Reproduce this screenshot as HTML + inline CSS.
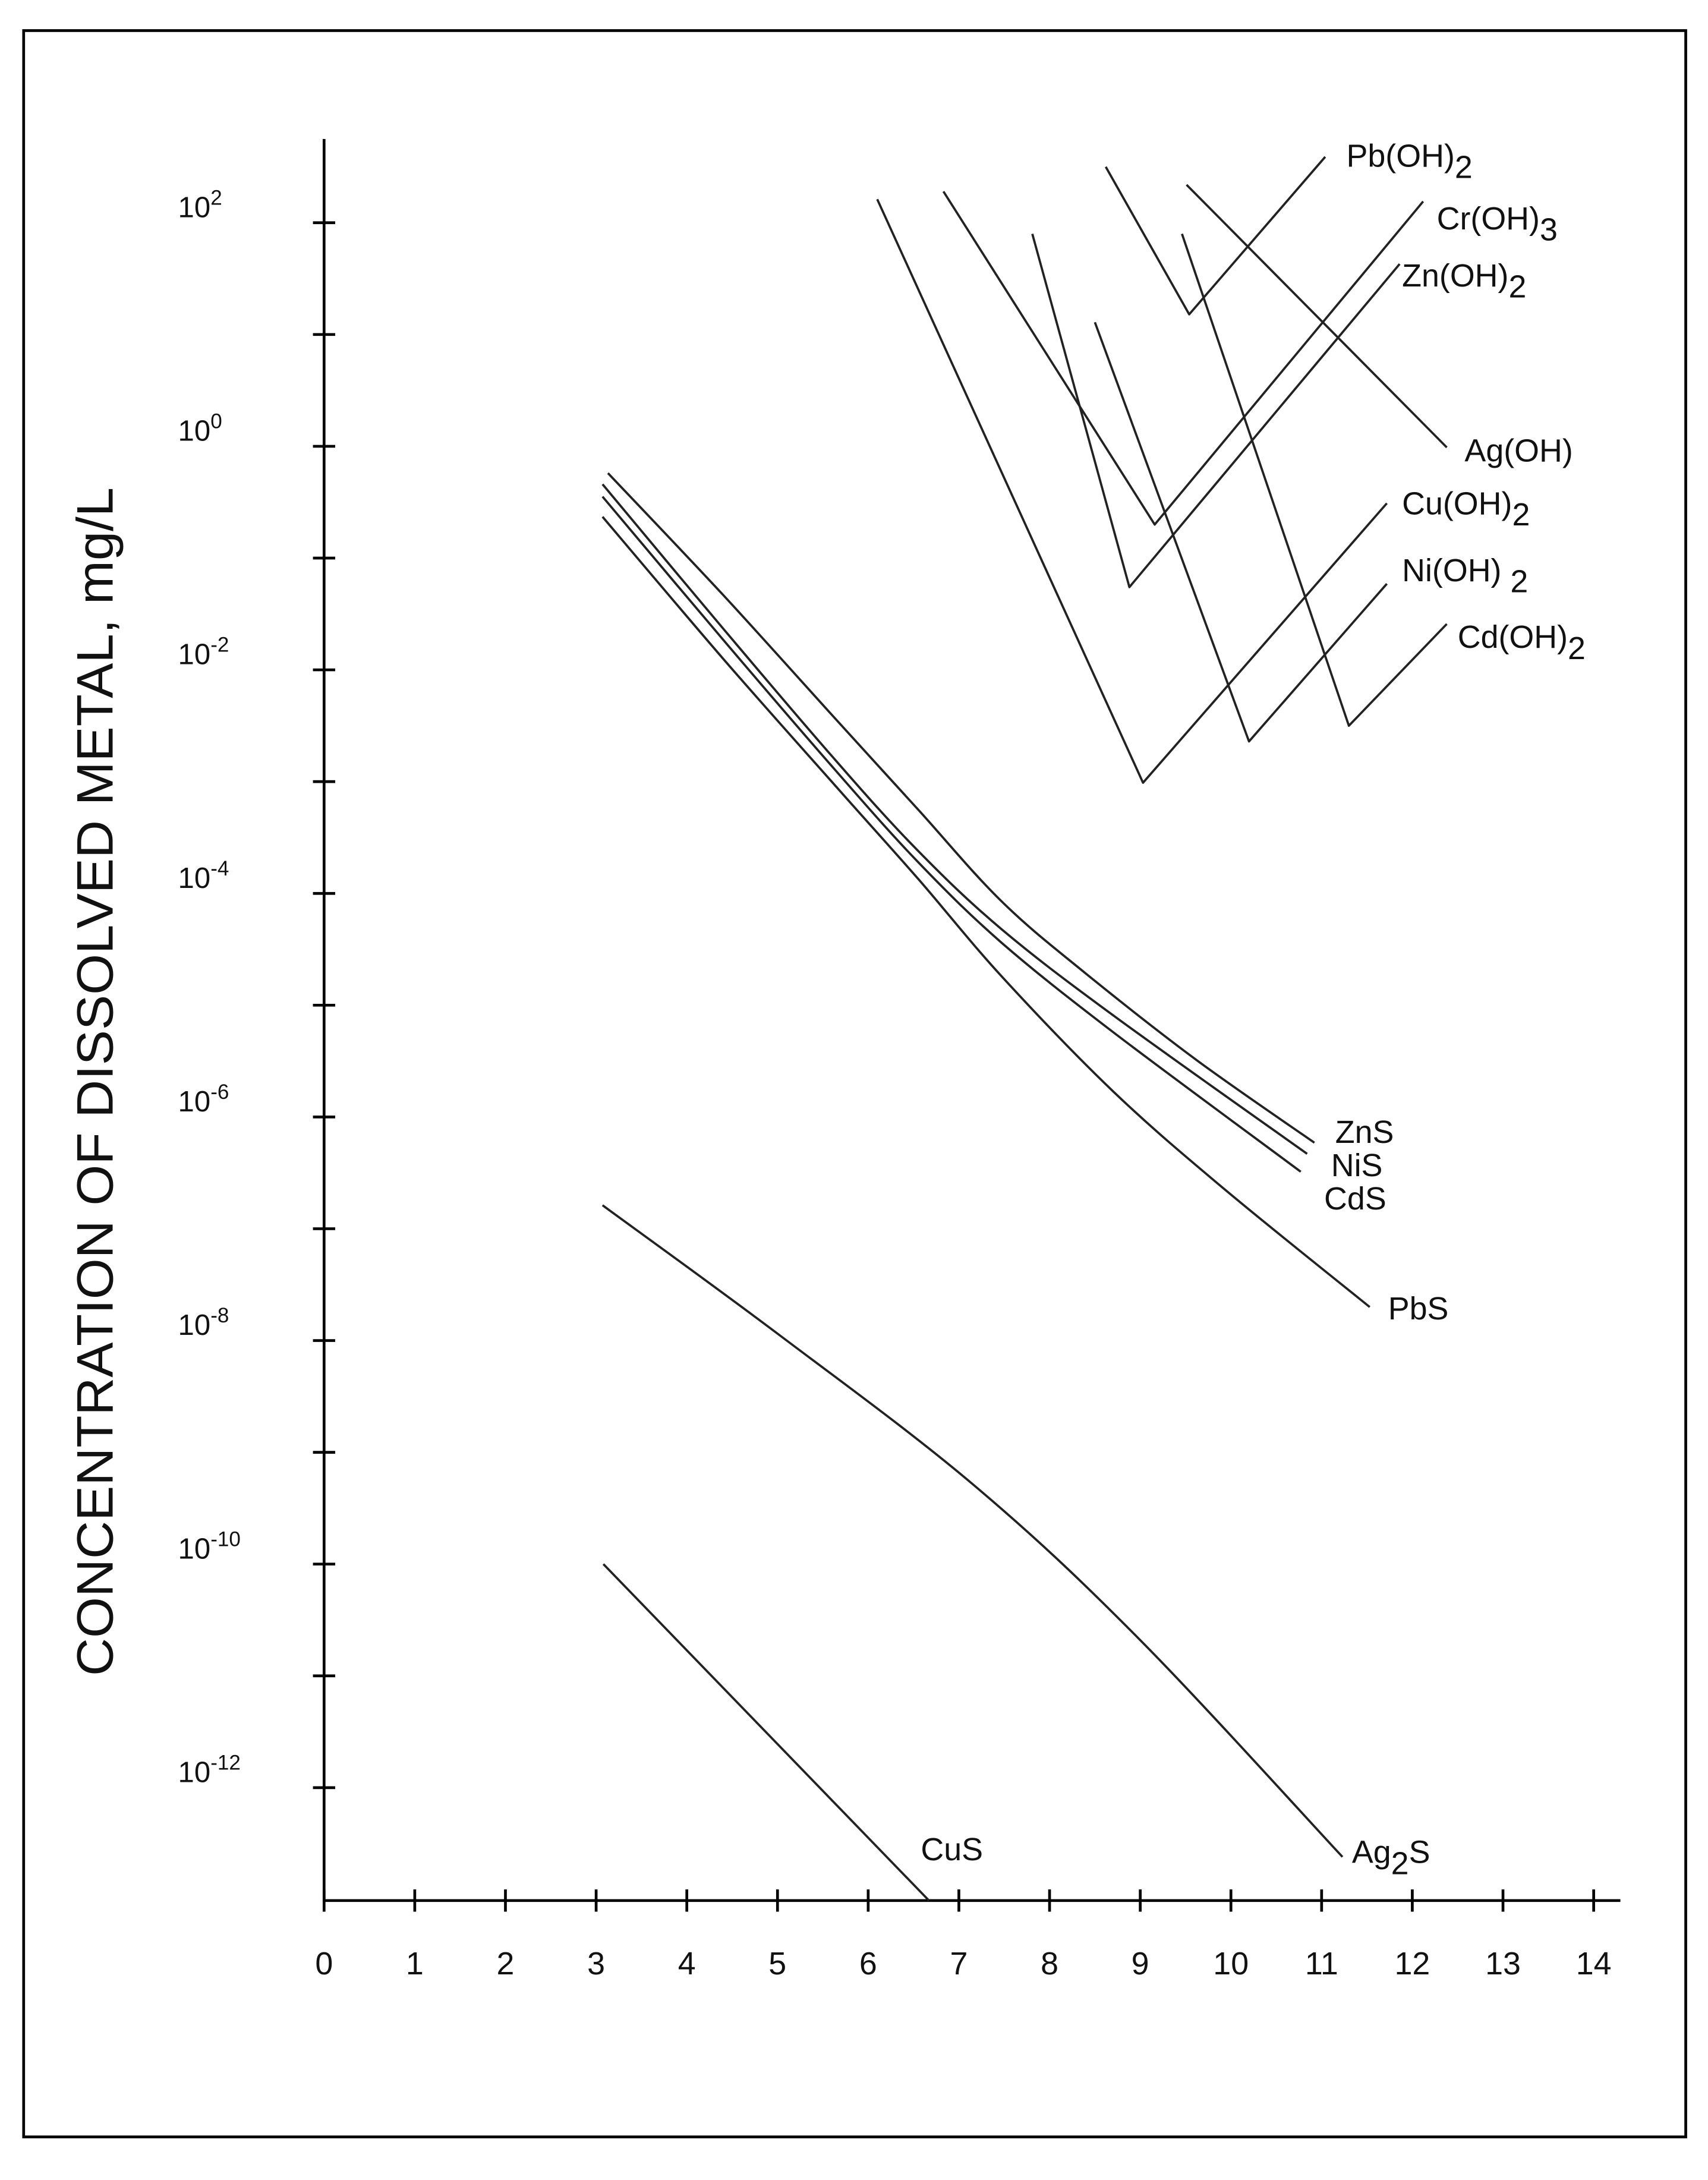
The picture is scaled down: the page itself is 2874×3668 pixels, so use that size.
<!DOCTYPE html>
<html><head><meta charset="utf-8"><style>
html,body{margin:0;padding:0;background:#fff;}
svg{display:block;}
text{font-family:"Liberation Sans",Arial,sans-serif;fill:#111;}
</style></head><body>
<svg id="chart" width="2874" height="3668" viewBox="0 0 1228 1568" preserveAspectRatio="none" xmlns="http://www.w3.org/2000/svg">
<rect x="17" y="22" width="1195" height="1515" fill="#fff" stroke="#000" stroke-width="2"/>
<g id="axes"></g>
<g id="series"></g>
<text transform="translate(81,778) rotate(-90)" text-anchor="middle" font-size="37" textLength="855" lengthAdjust="spacingAndGlyphs">CONCENTRATION OF DISSOLVED METAL, mg/L</text>
</svg>
<script>
const xTicks=[0,1,2,3,4,5,6,7,8,9,10,11,12,13,14];
const yDecades=[2,0,-2,-4,-6,-8,-10,-12];
const yMinorTicks=[1,-1,-3,-5,-7,-9,-11];
// series: [pH, log10(mg/L)]
const pbOH=[[8.62,2.50],[9.54,1.18],[11.04,2.59]];
const crOH=[[6.83,2.28],[9.16,-0.70],[12.12,2.19]];
const znOH=[[7.81,1.90],[8.88,-1.26],[11.86,1.63]];
const agOH=[[9.51,2.34],[12.38,-0.01]];
const cuOH=[[6.10,2.21],[9.03,-3.01],[11.72,-0.51]];
const niOH=[[8.50,1.11],[10.20,-2.64],[11.72,-1.23]];
const cdOH=[[9.46,1.90],[11.30,-2.50],[12.38,-1.59]];
const znS=[[3.13,-0.24],[4.40,-1.33],[5.63,-2.43],[6.55,-3.25],[7.47,-4.07],[8.39,-4.71],[9.62,-5.49],[10.92,-6.23]];
const niS=[[3.07,-0.34],[4.40,-1.63],[5.63,-2.80],[6.55,-3.62],[7.47,-4.32],[8.70,-5.09],[10.84,-6.33]];
const cdS=[[3.07,-0.45],[4.40,-1.73],[5.63,-2.89],[6.55,-3.72],[7.47,-4.44],[8.70,-5.24],[10.77,-6.49]];
const pbS=[[3.07,-0.63],[4.40,-1.90],[5.63,-3.03],[6.55,-3.87],[7.47,-4.74],[8.70,-5.77],[9.92,-6.64],[11.53,-7.70]];
const ag2S=[[3.07,-6.79],[5.02,-7.95],[7.16,-9.29],[9.00,-10.68],[11.23,-12.62]];
const cuS=[[3.08,-10.0],[6.67,-13.01]];
const seriesList=[
 ["pb-oh2",pbOH,"Pb(OH)","2",968,120,false],
 ["cr-oh3",crOH,"Cr(OH)","3",1033,165,false],
 ["zn-oh2",znOH,"Zn(OH)","2",1008,206,false],
 ["ag-oh",agOH,"Ag(OH)","",1053,332,false],
 ["cu-oh2",cuOH,"Cu(OH)","2",1008,370,false],
 ["ni-oh2",niOH,"Ni(OH) ","2",1008,418,false],
 ["cd-oh2",cdOH,"Cd(OH)","2",1048,466,false],
 ["zns",znS,"ZnS","",960,822,true],
 ["nis",niS,"NiS","",957,846,true],
 ["cds",cdS,"CdS","",952,870,true],
 ["pbs",pbS,"PbS","",998,949,true],
 ["ag2s",ag2S,"Ag","2S",972,1340,true],
 ["cus",cuS,"CuS","",662,1338,false]
];
const NS="http://www.w3.org/2000/svg";
function X(p){return 233+65.2*p;}
function Y(l){return 321-80.4*l;}
const ax=document.getElementById('axes'), sg=document.getElementById('series');
function mk(tag,attrs,parent){const e=document.createElementNS(NS,tag);for(const k in attrs)e.setAttribute(k,attrs[k]);parent.appendChild(e);return e;}
function smoothPath(P){
 let d='M'+P[0][0].toFixed(1)+','+P[0][1].toFixed(1);
 for(let i=0;i<P.length-1;i++){
  const p0=P[i-1]||P[i],p1=P[i],p2=P[i+1],p3=P[i+2]||p2;
  const c1=[p1[0]+(p2[0]-p0[0])/6,p1[1]+(p2[1]-p0[1])/6];
  const c2=[p2[0]-(p3[0]-p1[0])/6,p2[1]-(p3[1]-p1[1])/6];
  d+=' C'+c1[0].toFixed(1)+','+c1[1].toFixed(1)+' '+c2[0].toFixed(1)+','+c2[1].toFixed(1)+' '+p2[0].toFixed(1)+','+p2[1].toFixed(1);
 }
 return d;
}
let yl=mk('line',{x1:233,y1:100,x2:233,y2:1368,stroke:'#000','stroke-width':2},ax);


let xl=mk('line',{x1:232,y1:1367,x2:1165,y2:1367,stroke:'#000','stroke-width':2},ax);


xTicks.forEach(t=>{
 const l=mk('line',{x1:X(t),y1:1359,x2:X(t),y2:1375,stroke:'#000','stroke-width':2},ax);
 
 
 const tx=mk('text',{x:X(t),y:1420,'text-anchor':'middle','font-size':23},ax);
 tx.textContent=t;
 
 
});
yDecades.concat(yMinorTicks).forEach(d=>{
 const l=mk('line',{x1:225,y1:Y(d),x2:241,y2:Y(d),stroke:'#000','stroke-width':2},ax);
 
 
});
yDecades.forEach(d=>{
 const tx=mk('text',{x:128,y:Y(d)-4,'font-size':21},ax);
 
 
 const a=mk('tspan',{},tx);a.textContent='10';
 const b=mk('tspan',{dy:-9,'font-size':15},tx);b.textContent=String(d);
});
seriesList.forEach(s=>{
 const P=s[1].map(p=>[X(p[0]),Y(p[1])]);
 let el;
 if(s[6]){
  el=mk('path',{d:smoothPath(P),fill:'none',stroke:'#222','stroke-width':1.6},sg);
 } else {
  el=mk('polyline',{points:P.map(p=>p[0].toFixed(1)+','+p[1].toFixed(1)).join(' '),fill:'none',stroke:'#222','stroke-width':1.6,'stroke-linejoin':'round'},sg);
 }
 
 
 const tx=mk('text',{x:s[4],y:s[5],'font-size':23},sg);
 
 
 if(s[0]==='ag2s'){
  const a=mk('tspan',{},tx);a.textContent='Ag';
  const b=mk('tspan',{dy:8},tx);b.textContent='2';
  const c=mk('tspan',{dy:-8},tx);c.textContent='S';
 } else {
  const a=mk('tspan',{},tx);a.textContent=s[2];
  if(s[3]){const b=mk('tspan',{dy:8},tx);b.textContent=s[3];}
 }
});
</script>
</body></html>
